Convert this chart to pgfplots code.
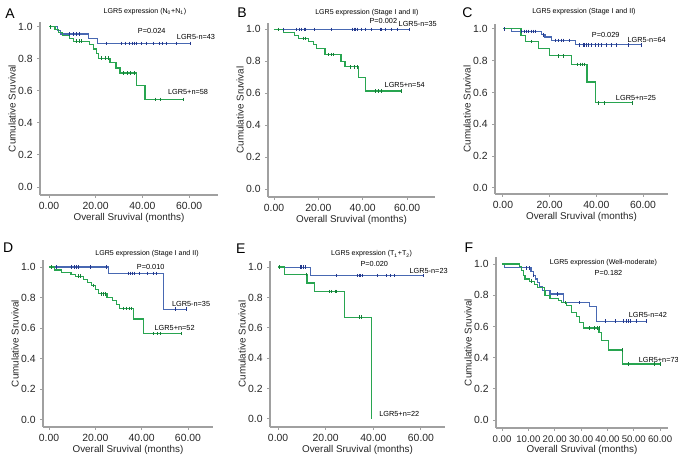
\documentclass[border=0pt]{standalone}
\usepackage{pgfplots}
\pgfplotsset{compat=1.18}
\usepackage{fontspec}
\setmainfont{Liberation Sans}
\definecolor{axisgray}{RGB}{160,160,160}
\definecolor{blueline}{RGB}{72,104,178}
\definecolor{bluemark}{RGB}{35,55,140}
\definecolor{greenline}{RGB}{40,165,80}
\definecolor{greenmark}{RGB}{20,125,55}
\tikzset{ann/.style={font=\fontsize{5.5}{6}\selectfont}, ttl/.style={font=\fontsize{5.3}{6}\selectfont}, annw/.style={ann, anchor=west, inner sep=0pt}}
\pgfplotsset{
  kmaxis/.style={
    scale only axis, anchor=south west, clip=false,
    axis x line*=bottom, axis y line*=left,
    axis line style={draw=axisgray, line width=1pt},
    tick style={draw=axisgray, line width=0.7pt},
    tick align=outside, major tick length=2pt,
    xtick={0,20,40,60}, ytick={0,0.2,0.4,0.6,0.8,1},
    /pgf/number format/assume math mode=true,
    x tick label style={/pgf/number format/.cd, fixed, fixed zerofill, precision=2, /tikz/.cd, font=\fontsize{7.8}{8}\selectfont, text=black!85},
    y tick label style={/pgf/number format/.cd, fixed, fixed zerofill, precision=1, /tikz/.cd, font=\fontsize{7.8}{8}\selectfont, text=black!85},
    xlabel={Overall Sruvival (months)}, ylabel={Cumulative Sruvival},
    label style={font=\fontsize{7.4}{8}\selectfont, text=black!85},
    xlabel style={yshift=4.5pt}, ylabel style={yshift=-5pt},
  },
  bl/.style={blueline, line width=0.85pt, const plot, no marks},
  gl/.style={greenline, line width=0.9pt, const plot, no marks},
  bm/.style={bluemark, only marks, mark=|, mark size=1.3pt, mark options={line width=0.6pt}},
  gm/.style={greenmark, only marks, mark=|, mark size=1.3pt, mark options={line width=0.6pt}},
}
\begin{document}
\begin{tikzpicture}
\useasboundingbox (0,0) rectangle (508.5pt,345pt);
% ---------- A ----------
\begin{axis}[kmaxis, at={(30pt,198.75pt)}, width=133.5pt, height=129.75pt,
  xmin=-3.86, xmax=72.4, ymin=-0.05, ymax=1.03]
\addplot[bl] coordinates {(0,1)(3.5,0.977)(5,0.955)(16.9,0.927)(20.7,0.897)(60.4,0.897)};
\addplot[bm] coordinates {(8.7,0.955)(10.4,0.955)(11.6,0.955)(13.0,0.955)(24.7,0.897)(30.9,0.897)(32.6,0.897)(34.4,0.897)(35.9,0.897)(36.6,0.897)(37.6,0.897)(39.7,0.897)(41.9,0.897)(44.7,0.897)(47.3,0.897)(48.7,0.897)(50.1,0.897)(54.7,0.897)(60.4,0.897)};
\addplot[gl] coordinates {(0,1)(2.6,0.983)(4.0,0.966)(5.9,0.948)(8.7,0.929)(10.4,0.91)(17.3,0.889)(19.0,0.862)(20.4,0.835)(21.1,0.804)(26.1,0.777)(28.7,0.743)(30.4,0.712)(37.6,0.636)(41.1,0.547)(57.6,0.547)};
\addplot[gm] coordinates {(0.5,1)(11.9,0.91)(13.0,0.91)(14.0,0.91)(22.6,0.804)(24.0,0.804)(25.4,0.804)(31.9,0.712)(33.6,0.712)(34.7,0.712)(36.6,0.712)(45.4,0.547)(47.6,0.547)(57.6,0.547)};
\node[ttl] at (axis cs:41.1,1.094) {LGR5 expression (N\textsubscript{0}+N\textsubscript{1})};
\node[ann] at (axis cs:44.0,0.971) {P=0.024};
\node[annw] at (axis cs:54.7,0.936) {LGR5-n=43};
\node[annw] at (axis cs:50.9,0.592) {LGR5+n=58};
\end{axis}
% ---------- B ----------
\begin{axis}[kmaxis, at={(201pt,197.25pt)}, width=125.25pt, height=130.5pt,
  xmin=-2.7, xmax=72.6, ymin=-0.05, ymax=1.04]
\addplot[bl] coordinates {(0,1)(60.9,1)};
\addplot[bm] coordinates {(4.2,1)(10.2,1)(11.3,1)(12.5,1)(13.7,1)(14.3,1)(18.2,1)(26.0,1)(35.3,1)(36.2,1)(36.8,1)(37.4,1)(39.5,1)(41.0,1)(43.8,1)(47.8,1)(48.6,1)(50.4,1)(53.1,1)(55.8,1)(60.9,1)};
\addplot[gl] coordinates {(0,1)(4.2,0.979)(9.2,0.962)(10.9,0.943)(15.5,0.925)(17.7,0.905)(19.2,0.879)(23.0,0.842)(30.2,0.80)(32.0,0.765)(38.0,0.698)(41.4,0.614)(57.6,0.614)};
\addplot[gm] coordinates {(1.8,1)(13.2,0.943)(14.3,0.943)(24.5,0.842)(25.7,0.842)(26.8,0.842)(34.5,0.765)(36.3,0.765)(37.5,0.765)(45.6,0.614)(47.1,0.614)(48.6,0.614)(57.6,0.614)};
\node[ttl] at (axis cs:41.9,1.106) {LGR5 expression (Stage I and II)};
\node[ann] at (axis cs:49.3,1.052) {P=0.002};
\node[annw] at (axis cs:56.1,1.031) {LGR5-n=35};
\node[annw] at (axis cs:49.8,0.65) {LGR5+n=54};
\end{axis}
% ---------- C ----------
\begin{axis}[kmaxis, at={(371.25pt,199.5pt)}, width=129.75pt, height=127.5pt,
  xmin=-3.4, xmax=70.7, ymin=-0.038, ymax=1.03]
\addplot[bl] coordinates {(0,1)(3.7,0.983)(16.6,0.962)(18.0,0.948)(20.9,0.927)(30.9,0.899)(59.5,0.899)};
\addplot[bm] coordinates {(0.5,1)(7.9,0.983)(9.1,0.983)(10.1,0.983)(10.8,0.983)(12.0,0.983)(13.0,0.983)(13.7,0.983)(17.3,0.962)(22.3,0.927)(23.7,0.927)(24.9,0.927)(25.9,0.927)(28.3,0.927)(32.9,0.899)(34.4,0.899)(35.1,0.899)(35.9,0.899)(36.6,0.899)(38.0,0.899)(39.4,0.899)(40.9,0.899)(42.3,0.899)(44.4,0.899)(46.6,0.899)(48.7,0.899)(53.7,0.899)(59.5,0.899)};
\addplot[gl] coordinates {(0,1)(7.7,0.96)(9.7,0.92)(15.4,0.875)(20.1,0.83)(29.5,0.777)(36.0,0.665)(39.7,0.535)(55.4,0.535)};
\addplot[gm] coordinates {(12.3,0.92)(23.7,0.83)(25.9,0.83)(32.0,0.777)(33.0,0.777)(34.0,0.777)(35.1,0.777)(41.0,0.535)(43.4,0.535)(55.4,0.535)};
\node[ttl] at (axis cs:34.7,1.107) {LGR5 expression (Stage I and II)};
\node[ann] at (axis cs:44.0,0.962) {P=0.029};
\node[annw] at (axis cs:53.3,0.931) {LGR5-n=64};
\node[annw] at (axis cs:48.3,0.568) {LGR5+n=25};
\end{axis}
% ---------- D ----------
\begin{axis}[kmaxis, at={(32.25pt,24.75pt)}, width=127.5pt, height=125.25pt,
  xmin=-2.6, xmax=70.8, ymin=-0.046, ymax=1.046]
\addplot[bl] coordinates {(0,1)(25.5,0.958)(49.3,0.725)(59.3,0.725)};
\addplot[bm] coordinates {(1.0,1)(3.3,1)(9.8,1)(10.8,1)(11.9,1)(12.9,1)(17.7,1)(24.9,1)(34.1,0.958)(35.1,0.958)(35.9,0.958)(36.9,0.958)(39.1,0.958)(42.3,0.958)(44.9,0.958)(46.3,0.958)(54.4,0.725)(59.3,0.725)};
\addplot[gl] coordinates {(0,1)(2.5,0.98)(5.5,0.965)(9.5,0.95)(11.5,0.94)(15,0.92)(16.5,0.90)(18.5,0.88)(20,0.855)(21.5,0.825)(25,0.80)(27.5,0.78)(29,0.755)(30.5,0.73)(36.6,0.66)(40.7,0.565)(57,0.565)};
\addplot[gm] coordinates {(1.0,1)(12.5,0.94)(13.5,0.94)(19,0.88)(22.5,0.825)(23.5,0.825)(24.5,0.825)(32,0.73)(33.5,0.73)(34.5,0.73)(35.5,0.73)(45,0.565)(47,0.565)(48,0.565)(57,0.565)};
\node[ttl] at (axis cs:42.3,1.085) {LGR5 expression (Stage I and II)};
\node[ann] at (axis cs:43.9,1.002) {P=0.010};
\node[annw] at (axis cs:53.0,0.758) {LGR5-n=35};
\node[annw] at (axis cs:45.5,0.599) {LGR5+n=52};
\end{axis}
% ---------- E ----------
\begin{axis}[kmaxis, at={(202.5pt,24.75pt)}, width=131.25pt, height=124.5pt,
  xmin=-3.4, xmax=70.1, ymin=-0.053, ymax=1.04]
\addplot[bl] coordinates {(0,1)(13.7,0.943)(61,0.943)};
\addplot[bm] coordinates {(9.2,1)(9.9,1)(10.6,1)(11.3,1)(24.3,0.943)(33.3,0.943)(34.1,0.943)(34.7,0.943)(35.5,0.943)(41.7,0.943)(45.3,0.943)(47.0,0.943)(48.7,0.943)(61,0.943)};
\addplot[gl] coordinates {(0,1)(2.7,0.952)(12.1,0.895)(15.2,0.838)(27.8,0.67)(39.3,0)};
\addplot[gm] coordinates {(0.5,1)(11.7,0.952)(21.5,0.838)(22.5,0.838)(23.9,0.838)(24.6,0.838)(34.1,0.67)(35.1,0.67)};
\node[ttl] at (axis cs:39.3,1.086) {LGR5 expression (T\textsubscript{1}+T\textsubscript{2})};
\node[ann] at (axis cs:40.4,1.02) {P=0.020};
\node[annw] at (axis cs:55.1,0.976) {LGR5-n=23};
\node[annw] at (axis cs:42.4,0.031) {LGR5+n=22};
\end{axis}
% ---------- F ----------
\begin{axis}[kmaxis, at={(372pt,24pt)}, width=129pt, height=128.25pt,
  xmin=-2.3, xmax=63.0, ymin=-0.05, ymax=1.045, xtick={0,10,20,30,40,50,60},
  x tick label style={font=\fontsize{7.2}{8}\selectfont}]
\addplot[bl] coordinates {(0,1)(0.8,0.976)(11.0,0.952)(11.9,0.928)(12.7,0.904)(13.5,0.88)(14.2,0.856)(15.2,0.832)(18.2,0.808)(23.3,0.752)(33.2,0.728)(35.7,0.634)(54.7,0.634)};
\addplot[bm] coordinates {(9.1,0.976)(10.4,0.976)(12.0,0.928)(21,0.808)(29.5,0.752)(39.1,0.634)(42.9,0.634)(46.1,0.634)(47.1,0.634)(48.0,0.634)(48.9,0.634)(51.1,0.634)(54.7,0.634)};
\addplot[gl] coordinates {(0,1)(6.6,0.983)(7.5,0.96)(8.0,0.925)(8.7,0.904)(10.4,0.89)(12.3,0.87)(13.5,0.848)(16.0,0.827)(16.3,0.80)(18.2,0.78)(21.3,0.765)(22.6,0.752)(24.5,0.735)(26.5,0.69)(28.4,0.662)(29.4,0.624)(30.9,0.59)(36.8,0.56)(37.6,0.508)(40.4,0.45)(45.8,0.36)(60.0,0.36)};
\addplot[gm] coordinates {(11,0.89)(24,0.752)(33.2,0.59)(35.2,0.59)(36.3,0.59)(36.8,0.59)(45.5,0.45)(47.8,0.36)(58,0.36)(60,0.36)};
\node[ttl] at (axis cs:38.5,1.011) {LGR5 expression (Well-moderate)};
\node[ann] at (axis cs:40.4,0.944) {P=0.182};
\node[annw] at (axis cs:48.0,0.673) {LGR5-n=42};
\node[annw] at (axis cs:51.8,0.385) {LGR5+n=73};
\end{axis}
% panel letters
\node[font=\fontsize{10.5}{12}\selectfont] at (7.5pt,334.6pt) {A};
\node[font=\fontsize{10.5}{12}\selectfont] at (181.5pt,335.2pt) {B};
\node[font=\fontsize{10.5}{12}\selectfont] at (350.6pt,335.2pt) {C};
\node[font=\fontsize{10.5}{12}\selectfont] at (6.2pt,159pt) {D};
\node[font=\fontsize{10.5}{12}\selectfont] at (180.6pt,158.2pt) {E};
\node[font=\fontsize{10.5}{12}\selectfont] at (351.7pt,159pt) {F};
\end{tikzpicture}
\end{document}
